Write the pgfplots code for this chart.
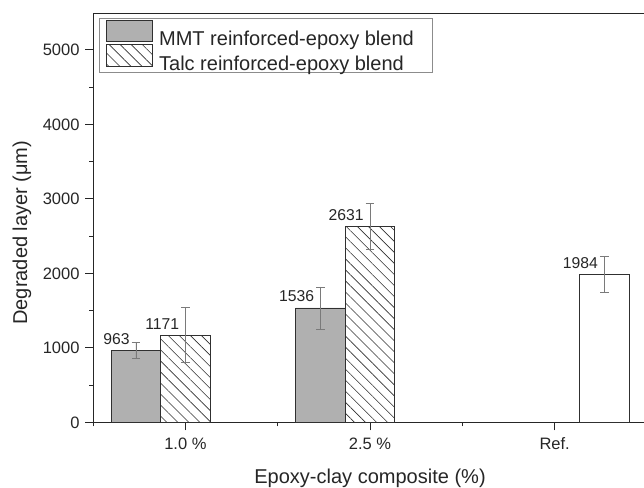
\documentclass[border=0pt]{standalone}
\usepackage{fontspec}
\setmainfont{Liberation Sans}
\usepackage{pgfplots}
\pgfplotsset{compat=1.18}
\usetikzlibrary{patterns.meta}
\definecolor{mmtgray}{HTML}{B0B0B0}
\definecolor{edge}{HTML}{303030}
\definecolor{errgray}{HTML}{7A7A7A}
\newcommand{\lgt}[1]{\raisebox{0pt}[16bp][1bp]{\hspace{6bp}#1\hspace{11bp}}}
\begin{document}
\begin{tikzpicture}
\begin{axis}[
  scale only axis, width=553.5bp, height=408.5bp,
  xmin=0.5, xmax=3.5, ymin=0, ymax=5490,
  ybar, bar width=49.5bp,
  xtick={1,2,3}, xticklabels={1.0 \%, 2.5 \%, Ref.},
  minor xtick={0.5,1.5,2.5,3.5},
  ytick={0,1000,...,5000}, minor ytick={500,1500,...,4500},
  tick align=outside, xtick pos=bottom, ytick pos=left,
  major tick length=8bp, minor tick length=4bp,
  axis line style={line width=1.1pt, black!85},
  every tick/.style={line width=1pt, black!85},
  every minor tick/.style={line width=1pt, black!85},
  /pgf/number format/assume math mode=true,
  /pgf/number format/1000 sep={},
  scaled y ticks=false,
  ticklabel style={font=\fontsize{16.5bp}{19bp}\selectfont, text=black!85},
  yticklabel style={anchor=east, xshift=-2bp},
  xticklabel style={anchor=base, yshift=-19bp},
  label style={font=\fontsize{20bp}{24bp}\selectfont, text=black!85},
  xlabel={Epoxy-clay composite (\%)},
  ylabel={Degraded layer (μm)},
  xlabel style={at={(axis description cs:0.5,-0.1493)}, anchor=base},
  ylabel style={at={(axis description cs:-0.1283,0.464)}, anchor=center},
  legend style={at={(axis description cs:0.0108,0.988)}, anchor=north west,
    draw=black!45, line width=0.6pt, font=\fontsize{20bp}{22bp}\selectfont,
    text=black!85, inner xsep=7bp, inner ysep=1bp, row sep=-3bp,
    nodes={inner sep=0pt},
    legend cell align=left},
  legend image code/.code={\draw[#1, line width=0.7pt] (0bp,-3.3bp) rectangle (46bp,18.3bp);},
  nodes near coords,
  nodes near coords style={anchor=base east, inner sep=0pt, xshift=-6bp, yshift=6bp,
    font=\fontsize{15.7bp}{18bp}\selectfont, text=black!85},
  error bars/y dir=both, error bars/y explicit,
  error bars/error bar style={errgray, line width=0.7pt},
  error bars/error mark options={rotate=90, errgray, line width=0.7pt, mark size=4.3bp},
]
\addplot[fill=mmtgray, draw=edge, line width=0.7pt, bar shift=-49.5bp]
  coordinates {(1,963) +- (0,108) (2,1536) +- (0,283)};
\addlegendentry{\lgt{MMT reinforced-epoxy blend}}
\addplot[pattern={Lines[angle=-45, distance=7.8bp, line width=0.6bp]}, pattern color=edge,
  draw=edge, line width=0.7pt, bar shift=0bp]
  coordinates {(1,1171) +- (0,372) (2,2631) +- (0,305)};
\addlegendentry{\lgt{Talc reinforced-epoxy blend}}
\addplot[fill=white, draw=edge, line width=0.7pt, bar shift=49.5bp, forget plot]
  coordinates {(3,1984) +- (0,242)};
\end{axis}
\pgfresetboundingbox
\path[use as bounding box] ([shift={(-93bp,-65bp)}]current axis.south west) rectangle ([shift={(-3bp,13.5bp)}]current axis.north east);
\end{tikzpicture}
\end{document}
